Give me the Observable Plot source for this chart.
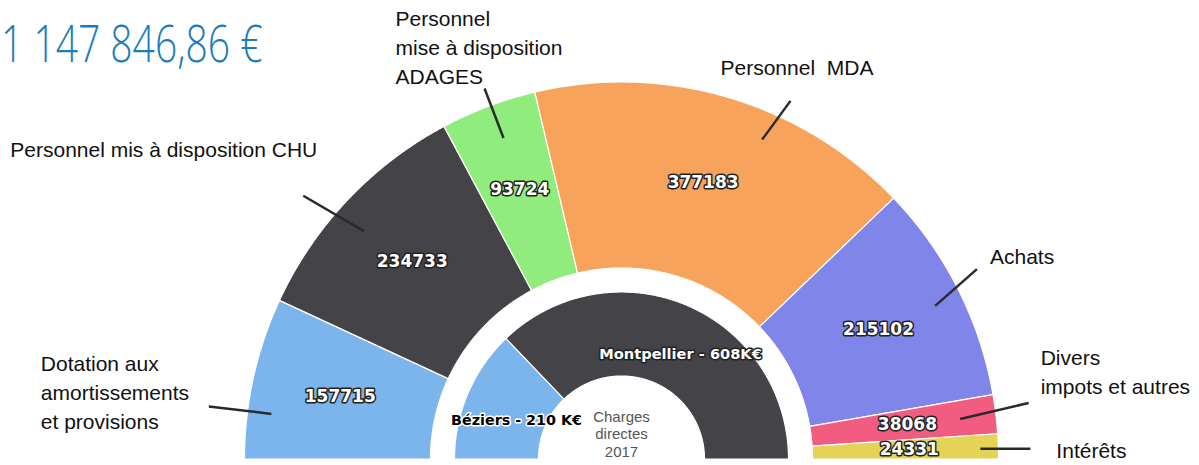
<!DOCTYPE html>
<html><head><meta charset="utf-8">
<script src="https://cdn.jsdelivr.net/npm/d3@7"></script>
<script src="https://cdn.jsdelivr.net/npm/@observablehq/plot@0.6"></script>
<style>
body{margin:0;background:#fff;}
#wrap{position:relative;width:1199px;height:465px;overflow:hidden;}
#wrap svg{position:absolute;left:0;top:0;}
#title{position:absolute;left:1px;top:17px;font-family:"Open Sans";font-weight:300;font-size:51px;color:#1a7cbd;transform:scaleX(0.765);transform-origin:0 0;white-space:nowrap;line-height:1;z-index:2;}
</style></head>
<body><div id="wrap"><div id="title"></div></div>
<script>
// ---- data ----
const titleText = "1 147 846,86 €";
const categories = ["Dotation aux\namortissements\net provisions", "Personnel mis à disposition CHU", "Personnel\nmise à disposition\nADAGES", "Personnel  MDA", "Achats", "Divers\nimpots et autres", "Intérêts"];
const values = [157715, 234733, 93724, 377183, 215102, 38068, 24331];
const colors = ["#7cb5ec", "#434348", "#90ed7d", "#f7a35c", "#8085e9", "#f15c80", "#e4d354"];
const sites = ["Béziers", "Montpellier"];
const siteValues = [210, 608];
const siteLabels = ["Béziers - 210 K€", "Montpellier - 608K€"];
const siteColors = ["#7cb5ec", "#434348"];
const centerText = "Charges\ndirectes\n2017";

// ---- layout (styling only) ----
const W = 1199, H = 465, CX = 621, CY = 458.5;
const outerRing = [191, 377], innerRing = [83, 167];
// connector: angle shifts (deg) at start/end, radius start/end, text offset from connector end
const connectorLayout = [
  {s1: -5.1, s2: -5.2, r1: 353, r2: 416, dx: -168, dy: -15.5},
  {s1: -1.9, s2: -3.8, r1: 344, r2: 413, dx: -293, dy: -48},
  {s1: 0.5, s2: 0.4, r1: 342, r2: 395, dx: -89, dy: -43},
  {s1: 7.3, s2: 8.8, r1: 349, r2: 396, dx: -70, dy: -35},
  {s1: 0.8, s2: -1.3, r1: 349, r2: 403, dx: 13, dy: -14},
  {s1: 0.1, s2: -1.0, r1: 341, r2: 411, dx: 12, dy: -33},
  {s1: 0.3, s2: 0.5, r1: 359, r2: 409, dx: 26, dy: 0}
];

document.getElementById("title").textContent = titleText;

const rad = Math.PI / 180;
const pos = (t, r) => [-r * Math.cos(t), r * Math.sin(t)];

function ring(vals, cols, [r0, r1], prefix) {
  const total = d3.sum(vals);
  let acc = 0;
  const pts = [], mids = [];
  vals.forEach((v, i) => {
    const a0 = acc / total * Math.PI, a1 = (acc + v) / total * Math.PI;
    acc += v;
    const n = Math.max(2, Math.ceil((a1 - a0) / 0.005));
    for (let k = 0; k <= n; k++) {
      const [x, y] = pos(a0 + (a1 - a0) * k / n, r1);
      pts.push({key: prefix + i, color: cols[i], x, y});
    }
    for (let k = n; k >= 0; k--) {
      const [x, y] = pos(a0 + (a1 - a0) * k / n, r0);
      pts.push({key: prefix + i, color: cols[i], x, y});
    }
    mids.push((a0 + a1) / 2);
  });
  return {pts, mids};
}

const outer = ring(values, colors, outerRing, "o");
const inner = ring(siteValues, siteColors, innerRing, "i");

const valueLabels = values.map((v, i) => {
  const [x, y] = pos(outer.mids[i], 288);
  return {x, y, text: String(v)};
});

const connectors = values.map((v, i) => {
  const L = connectorLayout[i];
  const [x1, y1] = pos(outer.mids[i] + L.s1 * rad, L.r1);
  const [x2, y2] = pos(outer.mids[i] + L.s2 * rad, L.r2);
  return {x1, y1, x2, y2, text: categories[i], dx: L.dx, dy: L.dy};
});

const siteLabelData = siteValues.map((v, i) => {
  const [x, y] = pos(inner.mids[i], 125);
  return {x, y, text: siteLabels[i], dark: i === 0};
});

const valueFont = {fontFamily: "DejaVu Sans", fontWeight: "bold", paintOrder: "stroke", strokeLinejoin: "round"};

const chart = Plot.plot({
  width: W, height: H, margin: 0,
  x: {domain: [-CX, W - CX], axis: null},
  y: {domain: [CY - H, CY], axis: null},
  color: {type: "identity"},
  style: {background: "white"},
  marks: [
    Plot.line(outer.pts, {x: "x", y: "y", z: "key", fill: "color", stroke: "white", strokeWidth: 1.2, curve: "linear-closed"}),
    Plot.line(inner.pts, {x: "x", y: "y", z: "key", fill: "color", stroke: "white", strokeWidth: 1.2, curve: "linear-closed"}),
    Plot.link(connectors, {x1: "x1", y1: "y1", x2: "x2", y2: "y2", stroke: "#2a2a2a", strokeWidth: 2.5}),
    ...connectors.map(c => Plot.text([c], {x: "x2", y: "y2", text: "text", dx: c.dx, dy: c.dy, textAnchor: "start", lineAnchor: "middle", lineHeight: 1.38, fontFamily: "Liberation Sans", fontSize: 21, fill: "#111"})),
    Plot.text(valueLabels, {x: "x", y: "y", text: "text", fontSize: 17, fill: "white", stroke: "#222", strokeWidth: 3, ...valueFont}),
    Plot.text(siteLabelData.filter(d => !d.dark), {x: "x", y: "y", text: "text", dx: 10, dy: 10, fontSize: 14.6, fill: "white", stroke: "#222", strokeWidth: 3, ...valueFont}),
    Plot.text(siteLabelData.filter(d => d.dark), {x: "x", y: "y", text: "text", dx: 10, dy: 10, fontSize: 14.3, fill: "black", stroke: "white", strokeWidth: 3, ...valueFont}),
    Plot.text([centerText], {x: () => 0, y: () => 25.5, text: d => d, lineAnchor: "middle", lineHeight: 1.17, fontFamily: "Liberation Sans", fontSize: 15, fill: "#555"})
  ]
});
document.getElementById("wrap").prepend(chart);
</script>
</body></html>
